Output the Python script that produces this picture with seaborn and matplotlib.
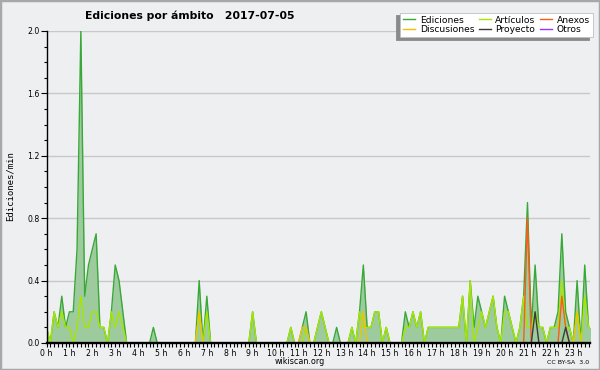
import numpy as np
import pandas as pd
import matplotlib
matplotlib.use("Agg")
import matplotlib.pyplot as plt
import seaborn as sns
from matplotlib.lines import Line2D
from matplotlib.patches import Rectangle
from matplotlib.ticker import MultipleLocator, FixedLocator, FuncFormatter

# ---- data: edits per minute, 10-minute buckets, 2017-07-05 ----
ediciones = [
    0.1, 0.0, 0.2, 0.1, 0.3, 0.1, 0.2, 0.2, 0.6, 2.0, 0.3, 0.5,
    0.6, 0.7, 0.1, 0.1, 0.0, 0.2, 0.5, 0.4, 0.2, 0.0, 0.0, 0.0,
    0.0, 0.0, 0.0, 0.0, 0.1, 0.0, 0.0, 0.0, 0.0, 0.0, 0.0, 0.0,
    0.0, 0.0, 0.0, 0.0, 0.4, 0.0, 0.3, 0.0, 0.0, 0.0, 0.0, 0.0,
    0.0, 0.0, 0.0, 0.0, 0.0, 0.0, 0.2, 0.0, 0.0, 0.0, 0.0, 0.0,
    0.0, 0.0, 0.0, 0.0, 0.1, 0.0, 0.0, 0.1, 0.2, 0.0, 0.0, 0.1,
    0.2, 0.1, 0.0, 0.0, 0.1, 0.0, 0.0, 0.0, 0.1, 0.0, 0.2, 0.5,
    0.1, 0.1, 0.2, 0.2, 0.0, 0.1, 0.0, 0.0, 0.0, 0.0, 0.2, 0.1,
    0.2, 0.1, 0.2, 0.0, 0.1, 0.1, 0.1, 0.1, 0.1, 0.1, 0.1, 0.1,
    0.1, 0.3, 0.0, 0.4, 0.1, 0.3, 0.2, 0.1, 0.2, 0.3, 0.1, 0.0,
    0.3, 0.2, 0.1, 0.0, 0.1, 0.3, 0.9, 0.1, 0.5, 0.1, 0.1, 0.0,
    0.1, 0.1, 0.2, 0.7, 0.2, 0.1, 0.0, 0.4, 0.0, 0.5, 0.1, 0.1,
]
articulos = [
    0.1, 0.0, 0.2, 0.1, 0.2, 0.1, 0.1, 0.0, 0.1, 0.3, 0.1, 0.1,
    0.2, 0.2, 0.1, 0.1, 0.0, 0.2, 0.1, 0.2, 0.1, 0.0, 0.0, 0.0,
    0.0, 0.0, 0.0, 0.0, 0.0, 0.0, 0.0, 0.0, 0.0, 0.0, 0.0, 0.0,
    0.0, 0.0, 0.0, 0.0, 0.2, 0.0, 0.2, 0.0, 0.0, 0.0, 0.0, 0.0,
    0.0, 0.0, 0.0, 0.0, 0.0, 0.0, 0.2, 0.0, 0.0, 0.0, 0.0, 0.0,
    0.0, 0.0, 0.0, 0.0, 0.1, 0.0, 0.0, 0.0, 0.1, 0.0, 0.0, 0.1,
    0.2, 0.1, 0.0, 0.0, 0.0, 0.0, 0.0, 0.0, 0.1, 0.0, 0.2, 0.1,
    0.1, 0.1, 0.2, 0.2, 0.0, 0.1, 0.0, 0.0, 0.0, 0.0, 0.1, 0.1,
    0.2, 0.1, 0.2, 0.0, 0.1, 0.1, 0.1, 0.1, 0.1, 0.1, 0.1, 0.1,
    0.1, 0.3, 0.0, 0.4, 0.0, 0.1, 0.2, 0.1, 0.2, 0.3, 0.1, 0.0,
    0.2, 0.2, 0.1, 0.0, 0.1, 0.3, 0.1, 0.1, 0.2, 0.1, 0.1, 0.0,
    0.1, 0.1, 0.1, 0.4, 0.1, 0.1, 0.0, 0.2, 0.0, 0.3, 0.1, 0.1,
]
discusiones = [
    0.0, 0.0, 0.0, 0.0, 0.0, 0.0, 0.0, 0.0, 0.0, 0.0, 0.0, 0.0,
    0.0, 0.0, 0.0, 0.0, 0.0, 0.0, 0.0, 0.0, 0.0, 0.0, 0.0, 0.0,
    0.0, 0.0, 0.0, 0.0, 0.0, 0.0, 0.0, 0.0, 0.0, 0.0, 0.0, 0.0,
    0.0, 0.0, 0.0, 0.0, 0.2, 0.0, 0.0, 0.0, 0.0, 0.0, 0.0, 0.0,
    0.0, 0.0, 0.0, 0.0, 0.0, 0.0, 0.0, 0.0, 0.0, 0.0, 0.0, 0.0,
    0.0, 0.0, 0.0, 0.0, 0.0, 0.0, 0.0, 0.1, 0.1, 0.0, 0.0, 0.0,
    0.0, 0.0, 0.0, 0.0, 0.0, 0.0, 0.0, 0.0, 0.0, 0.0, 0.0, 0.2,
    0.0, 0.0, 0.0, 0.0, 0.0, 0.0, 0.0, 0.0, 0.0, 0.0, 0.0, 0.0,
    0.0, 0.0, 0.0, 0.0, 0.0, 0.0, 0.0, 0.0, 0.0, 0.0, 0.0, 0.0,
    0.0, 0.0, 0.0, 0.0, 0.0, 0.0, 0.0, 0.0, 0.0, 0.0, 0.0, 0.0,
    0.0, 0.0, 0.0, 0.0, 0.0, 0.0, 0.0, 0.0, 0.0, 0.0, 0.0, 0.0,
    0.0, 0.0, 0.0, 0.0, 0.0, 0.0, 0.0, 0.2, 0.0, 0.0, 0.0, 0.0,
]
anexos = [
    0.0, 0.0, 0.0, 0.0, 0.0, 0.0, 0.0, 0.0, 0.0, 0.0, 0.0, 0.0,
    0.0, 0.0, 0.0, 0.0, 0.0, 0.0, 0.0, 0.0, 0.0, 0.0, 0.0, 0.0,
    0.0, 0.0, 0.0, 0.0, 0.0, 0.0, 0.0, 0.0, 0.0, 0.0, 0.0, 0.0,
    0.0, 0.0, 0.0, 0.0, 0.0, 0.0, 0.0, 0.0, 0.0, 0.0, 0.0, 0.0,
    0.0, 0.0, 0.0, 0.0, 0.0, 0.0, 0.0, 0.0, 0.0, 0.0, 0.0, 0.0,
    0.0, 0.0, 0.0, 0.0, 0.0, 0.0, 0.0, 0.0, 0.0, 0.0, 0.0, 0.0,
    0.0, 0.0, 0.0, 0.0, 0.0, 0.0, 0.0, 0.0, 0.0, 0.0, 0.0, 0.0,
    0.0, 0.0, 0.0, 0.0, 0.0, 0.0, 0.0, 0.0, 0.0, 0.0, 0.0, 0.0,
    0.0, 0.0, 0.0, 0.0, 0.0, 0.0, 0.0, 0.0, 0.0, 0.0, 0.0, 0.0,
    0.0, 0.0, 0.0, 0.0, 0.0, 0.0, 0.0, 0.0, 0.0, 0.0, 0.0, 0.0,
    0.0, 0.0, 0.0, 0.0, 0.0, 0.0, 0.8, 0.0, 0.0, 0.0, 0.0, 0.0,
    0.0, 0.0, 0.0, 0.3, 0.1, 0.0, 0.0, 0.0, 0.0, 0.0, 0.0, 0.0,
]
proyecto = [
    0.0, 0.0, 0.0, 0.0, 0.0, 0.0, 0.0, 0.0, 0.0, 0.0, 0.0, 0.0,
    0.0, 0.0, 0.0, 0.0, 0.0, 0.0, 0.0, 0.0, 0.0, 0.0, 0.0, 0.0,
    0.0, 0.0, 0.0, 0.0, 0.0, 0.0, 0.0, 0.0, 0.0, 0.0, 0.0, 0.0,
    0.0, 0.0, 0.0, 0.0, 0.0, 0.0, 0.0, 0.0, 0.0, 0.0, 0.0, 0.0,
    0.0, 0.0, 0.0, 0.0, 0.0, 0.0, 0.0, 0.0, 0.0, 0.0, 0.0, 0.0,
    0.0, 0.0, 0.0, 0.0, 0.0, 0.0, 0.0, 0.0, 0.0, 0.0, 0.0, 0.0,
    0.0, 0.0, 0.0, 0.0, 0.0, 0.0, 0.0, 0.0, 0.0, 0.0, 0.0, 0.0,
    0.0, 0.0, 0.0, 0.0, 0.0, 0.0, 0.0, 0.0, 0.0, 0.0, 0.0, 0.0,
    0.0, 0.0, 0.0, 0.0, 0.0, 0.0, 0.0, 0.0, 0.0, 0.0, 0.0, 0.0,
    0.0, 0.0, 0.0, 0.0, 0.0, 0.0, 0.0, 0.0, 0.0, 0.0, 0.0, 0.0,
    0.0, 0.0, 0.0, 0.0, 0.0, 0.0, 0.0, 0.0, 0.2, 0.0, 0.0, 0.0,
    0.0, 0.0, 0.0, 0.0, 0.1, 0.0, 0.0, 0.0, 0.0, 0.0, 0.0, 0.0,
]
otros = [0.0] * 144

hour_labels = [f"{h} h" for h in range(24)]
y_ticks = [0.0, 0.4, 0.8, 1.2, 1.6, 2.0]
series_names = ["Ediciones", "Discusiones", "Artículos", "Proyecto", "Anexos", "Otros"]

# ---- styling ----
BG = "#eeeff1"
FILL = "#9ecb9e"
colors = {
    "Ediciones": "#38a838",
    "Artículos": "#a6e600",
    "Discusiones": "#f2c200",
    "Anexos": "#ff5a1a",
    "Proyecto": "#3a3a3a",
    "Otros": "#9933ff",
}

hours = np.arange(len(ediciones)) / 6.0
df = pd.DataFrame({
    "hora": hours,
    "Ediciones": ediciones,
    "Artículos": articulos,
    "Discusiones": discusiones,
    "Anexos": anexos,
    "Proyecto": proyecto,
    "Otros": otros,
})

fig = plt.figure(figsize=(6, 3.7), dpi=100, facecolor=BG)
ax = fig.add_axes([46.5 / 600, 1 - 343 / 370, (590 - 46.5) / 600, (343 - 31) / 370])
ax.set_facecolor(BG)

ax.fill_between(df["hora"], df["Ediciones"], color=FILL, lw=0, zorder=1)
# draw order: otros first (all zero, stays hidden under the axis), then the rest
draw_order = ["Otros", "Ediciones", "Artículos", "Discusiones", "Anexos", "Proyecto"]
for k, name in enumerate(draw_order):
    sns.lineplot(data=df, x="hora", y=name, color=colors[name], lw=1.0, ax=ax,
                 legend=False, zorder=2 + k * 0.01)

ax.set_xlim(0, 23.73)
ax.set_ylim(0, 2.0)
ax.set_xlabel("")
ax.set_ylabel("")

ax.xaxis.set_major_locator(FixedLocator(list(range(24))))
ax.xaxis.set_major_formatter(FuncFormatter(lambda v, p: hour_labels[int(round(v))] if 0 <= round(v) < 24 else ""))
ax.xaxis.set_minor_locator(MultipleLocator(1 / 6))
ax.yaxis.set_major_locator(FixedLocator(y_ticks))
ax.yaxis.set_major_formatter(FuncFormatter(lambda v, p: f"{v:.1f}"))
ax.yaxis.set_minor_locator(MultipleLocator(0.1))

ax.tick_params(axis="x", which="both", direction="out", length=3, width=0.8,
               labelsize=5.6, pad=1, colors="black")
ax.tick_params(axis="y", which="major", direction="out", length=4, width=0.8,
               labelsize=5.6, pad=1)
ax.tick_params(axis="y", which="minor", direction="out", length=2.5, width=0.8)

ax.yaxis.grid(True, color="#c8c8c8", lw=1, zorder=0)
ax.xaxis.grid(False)
ax.set_axisbelow(True)
for s in ["top", "right"]:
    ax.spines[s].set_visible(False)
for s in ["left", "bottom"]:
    ax.spines[s].set_color("black")
    ax.spines[s].set_zorder(5)
ax.spines["left"].set_linewidth(1.0)
ax.spines["bottom"].set_linewidth(1.7)

# texts
fig.text(85 / 600, 1 - 16 / 370, "Ediciones por ámbito   2017-07-05",
         fontsize=7.8, fontweight="bold", ha="left", va="center")
fig.text(10 / 600, 1 - 186 / 370, "Ediciones/min", rotation=90,
         family="DejaVu Sans Mono", fontsize=6.5, ha="center", va="center")
fig.text(300 / 600, 1 - 361 / 370, "wikiscan.org", fontsize=5.8,
         ha="center", va="center")
fig.text(589 / 600, 1 - 362 / 370, "CC BY-SA  3.0", fontsize=4.5,
         ha="right", va="center")

# legend
handles = [Line2D([0], [0], color=colors[n], lw=1) for n in series_names]
leg = fig.legend(handles, series_names, ncol=3, loc="upper right",
                 bbox_to_anchor=(593 / 600, 1 - 12.5 / 370),
                 frameon=True, fancybox=False, facecolor="white",
                 edgecolor="#c0c0c0", fontsize=6.6, handlelength=1.3,
                 handletextpad=0.5, columnspacing=0.5, labelspacing=0.05,
                 borderpad=0.35, borderaxespad=0,
                 shadow={"ox": -2.8, "oy": -1.8, "color": "#8a8a8a", "alpha": 1})
leg.get_frame().set_linewidth(0.6)

fig.patches.append(Rectangle((0, 0), 1, 1, transform=fig.transFigure,
                             fill=False, edgecolor="#a8a8a8", lw=2.5))

fig.savefig("out.png", dpi=100, facecolor=BG)
